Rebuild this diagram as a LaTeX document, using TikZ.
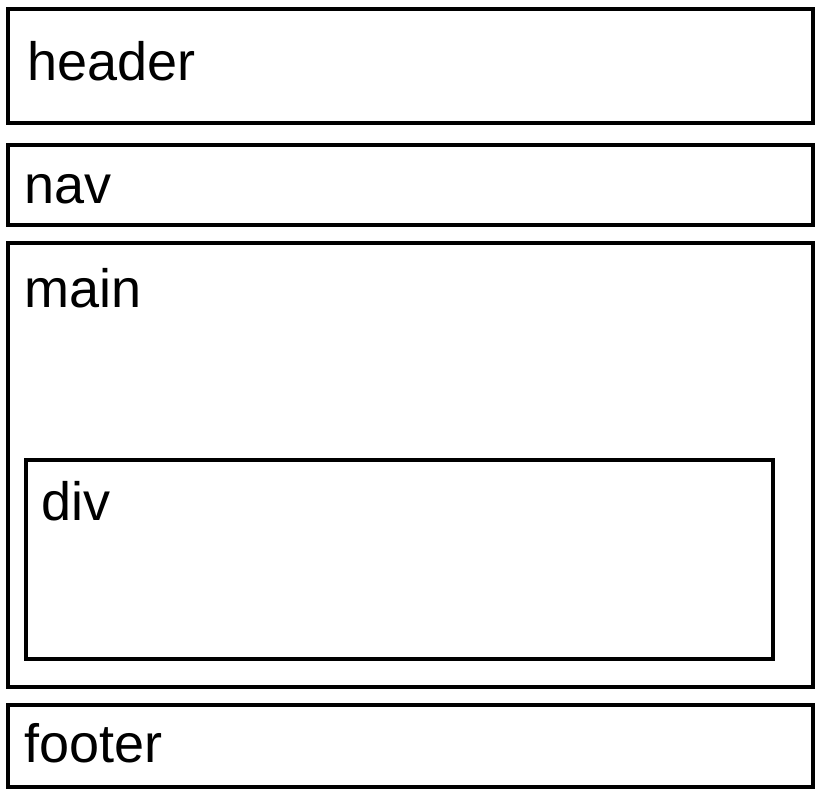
\documentclass[tikz,border=0pt]{standalone}
\usepackage{fontspec}
\setmainfont{Liberation Sans}
\usetikzlibrary{positioning}
\tikzset{
    x=1pt, y=-1pt,
    box/.style={ % the layout blocks
        draw,
        line width=4pt,
        inner sep=0pt,
        anchor=north west
    },
    tag/.style={ % block names
        anchor=base west,
        inner sep=0pt,
        font=\fontsize{54}{60}\selectfont
    }
}

\begin{document}
\begin{tikzpicture}
    \useasboundingbox (0,0) rectangle (820,788);

    \node[box, minimum width=805pt, minimum height=114pt] (header) at (6,7) {};
    \node[box, minimum width=805pt, minimum height=80pt] (nav) at (6,143) {};
    \node[box, minimum width=805pt, minimum height=444pt] (main) at (6,241) {};
    \node[box, minimum width=747pt, minimum height=199pt] (div) at (24,458) {};
    \node[box, minimum width=805pt, minimum height=82pt] (footer) at (6,703) {};

    \node[tag] (headertag) at (27,80) {header};
    \node[tag] (navtag) at (24,203) {nav};
    \node[tag] (maintag) at (24,307) {main};
    \node[tag] (divtag) at (41,520) {div};
    \node[tag] (footertag) at (24,762) {footer};
\end{tikzpicture}
\end{document}
